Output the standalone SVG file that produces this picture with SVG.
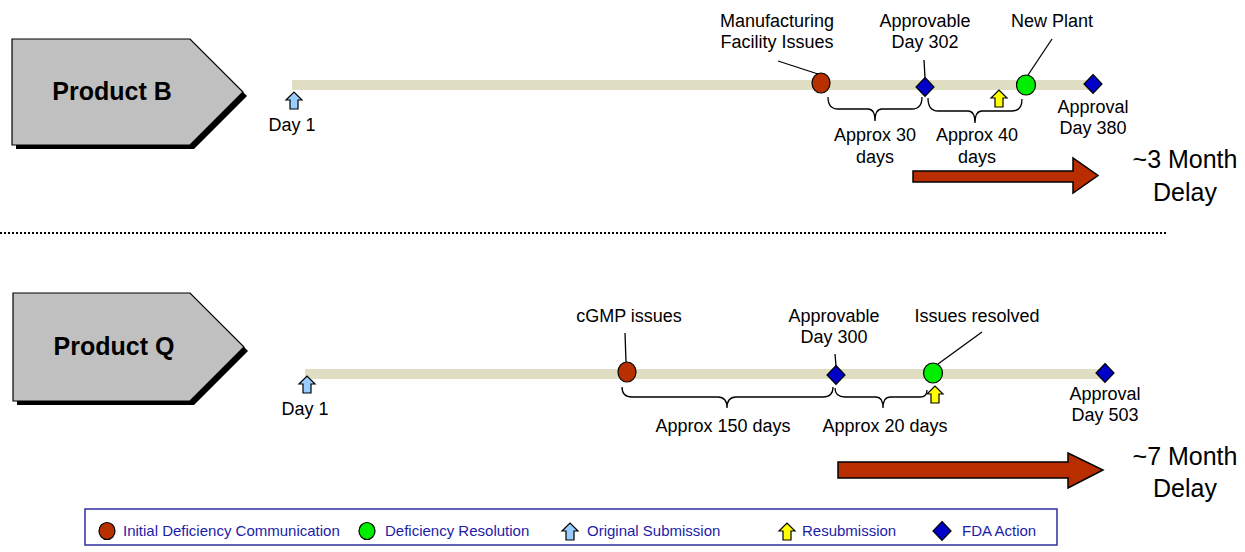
<svg xmlns="http://www.w3.org/2000/svg" width="1245" height="552" viewBox="0 0 1245 552">
<style>
text{font-family:"Liberation Sans",Arial,sans-serif;fill:#000}
.lbl{font-size:18px;text-anchor:middle}
.big{font-size:25px;text-anchor:middle}
.prod{font-size:25px;font-weight:bold;text-anchor:middle}
.leg{font-size:15px;fill:#1c1ca8}
.bar{fill:#dfdec3}
.red{fill:#b83000;stroke:#000;stroke-width:1.2}
.grn{fill:#00ee00;stroke:#000;stroke-width:1.2}
.dia{fill:#0000c8;stroke:#000;stroke-width:1.2}
.up{stroke:#000;stroke-width:1.2;stroke-linejoin:miter}
.blue{fill:#99ccff}
.yel{fill:#ffff00}
.lead{stroke:#000;stroke-width:1.3;fill:none}
.brace{stroke:#000;stroke-width:1.3;fill:none}
.pent{fill:#c0c0c0;stroke:#000;stroke-width:1.2}
.shadow{fill:#000}
.delay{fill:#b82e00;stroke:#000;stroke-width:1.5}
</style>
<defs>
<path id="uparrow" d="M-8,8 L0,0 L8,8 L4,8 L4,17 L-4,17 L-4,8 Z"/>
<path id="diamond" d="M0,-9.5 L9,0 L0,9.5 L-9,0 Z"/>
</defs>

<!-- Product B -->
<g id="productB">
<path class="shadow" d="M16,43 L194,43 L247,96 L194,149 L16,149 Z"/>
<path class="pent" d="M12,39 L190,39 L243,92 L190,145 L12,145 Z"/>
<text class="prod" x="112" y="100">Product B</text>
</g>

<g id="timelineB">
<rect class="bar" x="292" y="80" width="801" height="10"/>
</g>

<g id="dayB1">
<use href="#uparrow" class="up blue" x="294" y="92"/>
<text class="lbl" x="292" y="131">Day 1</text>
</g>

<g id="mfgIssues">
<ellipse class="red" cx="821" cy="83" rx="9" ry="10"/>
<text class="lbl" x="777" y="27">Manufacturing</text>
<text class="lbl" x="777" y="48">Facility Issues</text>
</g>

<g id="approvable302">
<use href="#diamond" class="dia" x="925" y="87"/>
<text class="lbl" x="925" y="27">Approvable</text>
<text class="lbl" x="925" y="48">Day 302</text>
</g>

<g id="resubB">
<use href="#uparrow" class="up yel" x="999" y="90"/>
</g>

<g id="newPlant">
<ellipse class="grn" cx="1026" cy="85" rx="9.5" ry="10"/>
<text class="lbl" x="1052" y="27">New Plant</text>
</g>

<g id="approval380">
<use href="#diamond" class="dia" x="1093" y="84"/>
<text class="lbl" x="1093" y="113">Approval</text>
<text class="lbl" x="1093" y="134">Day 380</text>
</g>

<g id="approxB30">
<text class="lbl" x="875" y="141">Approx 30</text>
<text class="lbl" x="875" y="163">days</text>
</g>
<g id="approxB40">
<text class="lbl" x="977" y="141">Approx 40</text>
<text class="lbl" x="977" y="163">days</text>
</g>

<g id="delayB">
<path class="delay" d="M913,171 L1073,171 L1073,158 L1098,175.5 L1073,193 L1073,182 L913,182 Z"/>
<text class="big" x="1185" y="168">~3 Month</text>
<text class="big" x="1185" y="201">Delay</text>
</g>

<!-- separator -->
<line x1="0" y1="233" x2="1166" y2="233" stroke="#000" stroke-width="2" stroke-dasharray="2 2"/>

<!-- Product Q -->
<g id="productQ">
<path class="shadow" d="M17,297 L194,297 L248,351 L194,405 L17,405 Z"/>
<path class="pent" d="M13,293 L190,293 L244,347 L190,401 L13,401 Z"/>
<text class="prod" x="114" y="355">Product Q</text>
</g>

<g id="timelineQ">
<rect class="bar" x="305" y="369" width="800" height="10"/>
</g>

<g id="dayQ1">
<use href="#uparrow" class="up blue" x="307" y="376"/>
<text class="lbl" x="305" y="415">Day 1</text>
</g>

<g id="cgmp">
<ellipse class="red" cx="627" cy="372" rx="9" ry="10"/>
<text class="lbl" x="629" y="322">cGMP issues</text>
</g>

<g id="approvable300">
<use href="#diamond" class="dia" x="836" y="375"/>
<text class="lbl" x="834" y="322">Approvable</text>
<text class="lbl" x="834" y="343">Day 300</text>
</g>

<g id="issuesResolved">
<ellipse class="grn" cx="933" cy="373" rx="9.5" ry="10"/>
<text class="lbl" x="977" y="322">Issues resolved</text>
</g>

<g id="resubQ">
<use href="#uparrow" class="up yel" x="935" y="386"/>
</g>

<g id="approval503">
<use href="#diamond" class="dia" x="1105" y="373"/>
<text class="lbl" x="1105" y="400">Approval</text>
<text class="lbl" x="1105" y="421">Day 503</text>
</g>

<g id="approxQ150">
<text class="lbl" x="723" y="432">Approx 150 days</text>
</g>
<g id="approxQ20">
<text class="lbl" x="885" y="432">Approx 20 days</text>
</g>

<g id="delayQ">
<path class="delay" d="M838,462 L1068,462 L1068,453 L1103,470 L1068,488 L1068,478 L838,478 Z"/>
<text class="big" x="1185" y="465">~7 Month</text>
<text class="big" x="1185" y="497">Delay</text>
</g>

<!-- connectors: leader lines and braces -->
<g id="connectors">
<line class="lead" x1="778" y1="61" x2="818" y2="74"/>
<line class="lead" x1="924" y1="60" x2="925" y2="78"/>
<line class="lead" x1="1052" y1="39" x2="1028" y2="75"/>
<line class="lead" x1="625" y1="333" x2="626" y2="362"/>
<line class="lead" x1="835" y1="354" x2="836" y2="366"/>
<line class="lead" x1="982" y1="332" x2="938" y2="364"/>

<path class="brace" d="M828,97 Q828,109 838,109 L868,109 Q875,109 875,121 Q875,109 882,109 L912,109 Q922,109 922,97"/>
<path class="brace" d="M928,98 Q928,111 938,111 L968,111 Q975,111 975,123 Q975,111 982,111 L1012,111 Q1022,111 1022,99"/>
<path class="brace" d="M622,387 Q622,397 632,397 L718,397 Q727,397 727,408 Q727,397 736,397 L823,397 Q833,397 833,387"/>
<path class="brace" d="M835,388 Q835,397 845,397 L876,397 Q883,397 883,408 Q883,397 890,397 L920,397 Q927,397 927,390"/>
</g>

<!-- legend -->
<g id="legend">
<rect x="85" y="509" width="972" height="36" fill="#fff" stroke="#2e2e9e" stroke-width="1.5"/>
<ellipse class="red" cx="107" cy="531" rx="8" ry="8.5"/>
<text class="leg" x="123" y="536">Initial Deficiency Communication</text>
<ellipse class="grn" cx="367" cy="531" rx="8" ry="8.5"/>
<text class="leg" x="385" y="536">Deficiency Resolution</text>
<use href="#uparrow" class="up blue" x="570" y="523"/>
<text class="leg" x="587" y="536">Original Submission</text>
<use href="#uparrow" class="up yel" x="787" y="523"/>
<text class="leg" x="802" y="536">Resubmission</text>
<use href="#diamond" class="dia" x="942" y="531"/>
<text class="leg" x="962" y="536">FDA Action</text>
</g>
</svg>
